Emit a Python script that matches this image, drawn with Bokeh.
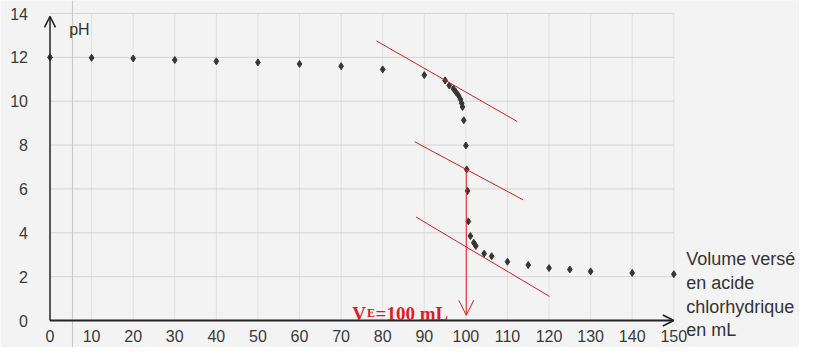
from bokeh.plotting import figure
from bokeh.models import (Range1d, FixedTicker, Arrow, OpenHead, Label, Span)
from bokeh.embed import file_html
from bokeh.resources import INLINE

# ---- data ----
volume = [0, 10, 20, 30, 40, 50, 60, 70, 80, 90, 95, 96, 97, 97.6, 98.2,
          98.7, 99.0, 99.2, 99.5, 100.0, 100.2, 100.4, 100.6, 101.1, 101.9,
          102.4, 104.4, 106.2, 110, 115, 120, 125, 130, 140, 150]
ph = [12.0, 11.98, 11.95, 11.88, 11.82, 11.77, 11.70, 11.60, 11.45, 11.19,
      10.95, 10.72, 10.57, 10.42, 10.27, 10.09, 9.91, 9.74, 9.13, 7.98,
      6.89, 5.91, 4.52, 3.85, 3.55, 3.40, 3.05, 2.93, 2.68, 2.53, 2.39,
      2.33, 2.24, 2.17, 2.11]

# tangents drawn by hand (red)
tan_x0 = [78.5, 87.7, 88.0]
tan_y0 = [12.75, 8.15, 4.72]
tan_x1 = [112.3, 113.8, 120.1]
tan_y1 = [9.08, 5.50, 1.10]

# equivalence point
v_eq = 100.1
ph_eq = 6.89

x_ticks = [0, 10, 20, 30, 40, 50, 60, 70, 80, 90, 100, 110, 120, 130, 140, 150]
y_ticks = [0, 2, 4, 6, 8, 10, 12, 14]

x_label_lines = ["Volume versé", "en acide", "chlorhydrique", "en mL"]
y_label = "pH"

BG = "#f3f3f3"
INK = "#333333"
RED = "#dc1e1e"
FONT = "Liberation Sans"

W, H = 799, 347
# pixel placement of the plotting area inside the canvas
x0_px, x150_px = 49.5, 673.3
y0_px, y14_px = 320.0, 13.0
sx = (x150_px - x0_px) / 150.0
sy = (y0_px - y14_px) / 14.0
x_start = -x0_px / sx
x_end = x_start + W / sx
y_end = 14 + y14_px / sy
y_start = -(H - y0_px) / sy

p = figure(width=W, height=H, output_backend="svg", toolbar_location=None,
           x_range=Range1d(x_start, x_end), y_range=Range1d(y_start, y_end),
           min_border=0)
p.background_fill_color = BG
p.border_fill_color = BG
p.outline_line_color = None

p.xaxis.fixed_location = 0
p.yaxis.fixed_location = 0
p.xaxis.bounds = (0, 150)
p.yaxis.bounds = (0, 14)
for ax in (p.xaxis[0], p.yaxis[0]):
    ax.axis_line_color = None
    ax.major_tick_line_color = None
    ax.minor_tick_line_color = None
    ax.major_label_text_font = FONT
    ax.major_label_text_font_size = "16px"
    ax.major_label_text_color = "#3a3a3a"
p.xaxis.ticker = FixedTicker(ticks=x_ticks)
p.yaxis.ticker = FixedTicker(ticks=y_ticks)
p.xaxis.major_label_standoff = 3
p.yaxis.major_label_standoff = 16

# grid limited to the 0..150 x 0..14 area
p.xgrid.visible = False
p.ygrid.visible = False
p.segment(x0=x_ticks[1:], y0=[0] * (len(x_ticks) - 1), x1=x_ticks[1:],
          y1=[14] * (len(x_ticks) - 1), line_color="#e0e0e0", line_width=1)
p.segment(x0=[0] * (len(y_ticks) - 1), y0=y_ticks[1:],
          x1=[150] * (len(y_ticks) - 1), y1=y_ticks[1:],
          line_color="#d4d4d4", line_width=1)

# scanner artefact line
p.add_layout(Span(location=5.4, dimension="height", line_color="#c6c6c6",
                  line_width=1))

# axes drawn as arrows
p.add_layout(Arrow(x_start=0, y_start=0, x_end=0, y_end=13.87,
                   line_color="#222222", line_width=1.5,
                   end=OpenHead(size=11, line_color="#222222", line_width=1.5)))
p.add_layout(Arrow(x_start=0, y_start=0, x_end=150, y_end=0,
                   line_color="#222222", line_width=2,
                   end=OpenHead(size=11, line_color="#222222", line_width=1.5)))

# data points
p.scatter(volume, ph, marker="diamond", size=7, color="#353535")

# tangents
p.segment(x0=tan_x0, y0=tan_y0, x1=tan_x1, y1=tan_y1, line_color=RED,
          line_width=1)

# equivalence arrow
p.add_layout(Arrow(x_start=v_eq, y_start=ph_eq, x_end=v_eq, y_end=0.24,
                   line_color=RED, line_width=1,
                   end=OpenHead(size=15, line_color=RED, line_width=1)))

# labels
p.add_layout(Label(x=4.6, y=13.26, text=y_label, text_font=FONT,
                   text_font_size="16px", text_color=INK,
                   text_baseline="alphabetic"))
for i, line in enumerate(x_label_lines):
    p.add_layout(Label(x=153.0, y=2.79 - i * 1.08, text=line, text_font=FONT,
                       text_font_size="18px", text_color=INK,
                       text_baseline="alphabetic"))

p.add_layout(Label(x=72.7, y=0.32, text="V", text_font="Liberation Serif",
                   text_font_size="19px", text_font_style="bold",
                   text_color=RED, text_baseline="alphabetic"))
p.add_layout(Label(x=76.2, y=0.32, text="E", text_font="Liberation Serif",
                   text_font_size="12px", text_font_style="bold",
                   text_color=RED, text_baseline="alphabetic"))
p.add_layout(Label(x=78.3, y=0.32, text="=100 mL", text_font="Liberation Serif",
                   text_font_size="19px", text_font_style="bold",
                   text_color=RED, text_baseline="alphabetic"))

open("out.html", "w").write(file_html(p, INLINE))
